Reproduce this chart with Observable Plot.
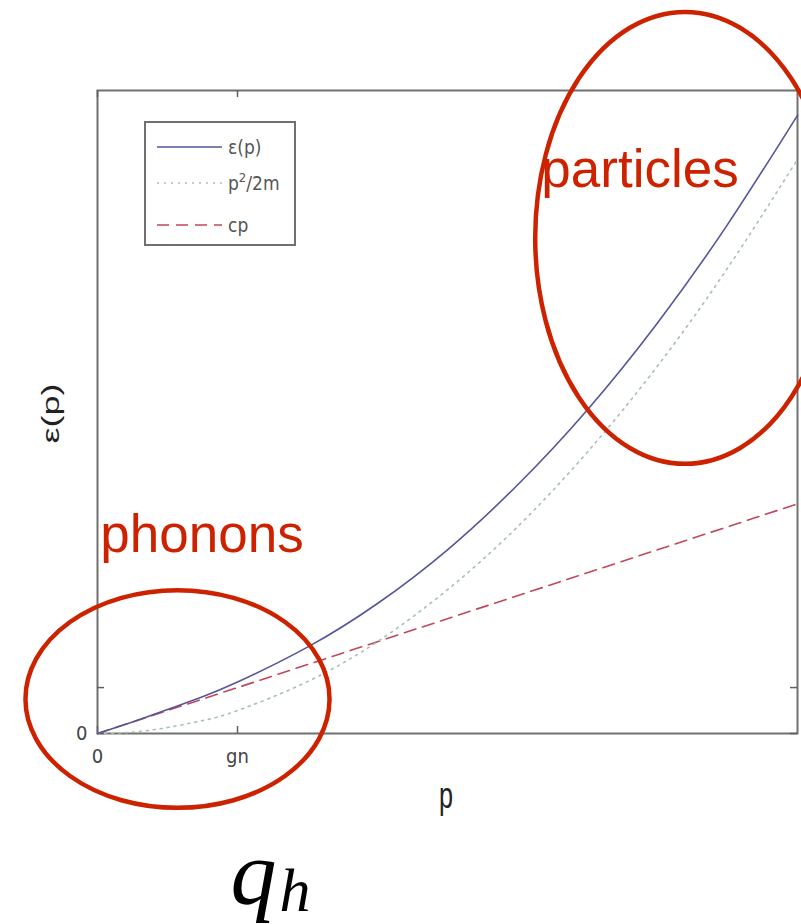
<!DOCTYPE html>
<html>
<head>
<meta charset="utf-8">
<script src="https://cdn.jsdelivr.net/npm/d3@7"></script>
<script src="https://cdn.jsdelivr.net/npm/@observablehq/plot@0.6"></script>
<style>
  html, body { margin: 0; padding: 0; background: #fff; }
  #chart svg { display: block; }
</style>
</head>
<body>
<div id="chart"></div>
<script>
// Momentum grid (units of gn) and energies of the three branches
const pGrid      = [0, 0.25, 0.5, 0.75, 1, 1.5, 2, 2.5, 3, 3.5, 4, 4.5, 5];
const epsValues  = [0, 0.25, 0.52, 0.80, 1.12, 1.88, 2.83, 4.00, 5.41, 7.05, 8.94, 11.08, 13.46];
const freeValues = [0, 0.03, 0.13, 0.28, 0.50, 1.13, 2.00, 3.13, 4.50, 6.13, 8.00, 10.13, 12.50];
const soundValues = [0, 0.25, 0.5, 0.75, 1, 1.5, 2, 2.5, 3, 3.5, 4, 4.5, 5];

// Axis ticks
const xTicks = [0, 1];
const xTickLabels = ["0", "gn"];
const yTicks = [0, 1];
const yTickLabels = ["0", ""];

// Legend entries
const seriesNames = ["ε(p)", "p²/2m", "cp"];
const seriesColors = ["#55559a", "#a6bfb6", "#c0485a"];
const seriesDash = [null, "2,5", "12,7"];

// Regime annotations (data units: p, energy)
const regionLabels = ["phonons", "particles"];
const regionLabelPos = [[0.02, 3.95], [3.17, 11.9]];
const regionCenters = [[0.575, 0.74], [4.2, 10.78]];
const regionRadii = [[1.086, 2.37], [1.07, 4.92]];

const red = "#cc2200";
const axisFont = "'DejaVu Sans Condensed', 'Liberation Sans', sans-serif";
const titleFont = "'Liberation Sans', Arial, sans-serif";
const mathFont = "'Liberation Serif', 'DejaVu Serif', serif";

const rows = pGrid.map((p, i) => ({p, eps: epsValues[i], free: freeValues[i], sound: soundValues[i]}));

const chart = Plot.plot({
  width: 801,
  height: 924,
  marginLeft: 97,
  marginRight: 4,
  marginTop: 90,
  marginBottom: 191,
  style: {background: "#fff", fontFamily: axisFont, color: "#444"},
  x: {domain: [0, 5]},
  y: {domain: [0, 14]},
  marks: [
    Plot.frame({stroke: "#707070", strokeWidth: 2}),
    // inward tick marks on all four sides
    Plot.ruleX(xTicks, {stroke: "#606060", strokeWidth: 1.5, insetTop: 636}),
    Plot.ruleX(xTicks, {stroke: "#606060", strokeWidth: 1.5, insetBottom: 636}),
    Plot.ruleY(yTicks, {stroke: "#606060", strokeWidth: 1.5, insetRight: 693}),
    Plot.ruleY(yTicks, {stroke: "#606060", strokeWidth: 1.5, insetLeft: 693}),
    Plot.axisX(xTicks, {tickSize: 0, tickPadding: 15, fontSize: 20, label: null,
      tickFormat: d => xTickLabels[xTicks.indexOf(d)]}),
    Plot.axisY(yTicks, {tickSize: 0, tickPadding: 10, fontSize: 20, label: null,
      tickFormat: d => yTickLabels[yTicks.indexOf(d)]}),
    // curves
    Plot.line(rows, {x: "p", y: "sound", stroke: seriesColors[2], strokeWidth: 1.6, strokeDasharray: seriesDash[2]}),
    Plot.line(rows, {x: "p", y: "free", stroke: seriesColors[1], strokeWidth: 1.6, strokeDasharray: seriesDash[1], curve: "natural"}),
    Plot.line(rows, {x: "p", y: "eps", stroke: seriesColors[0], strokeWidth: 1.6, curve: "natural"}),
    // q_h below the axis
    Plot.text(["q"], {frameAnchor: "bottom-left", dx: 133, dy: 170, lineAnchor: "bottom", textAnchor: "start",
      fontSize: 92, fontStyle: "italic", fill: "#000", fontFamily: mathFont}),
    Plot.text(["h"], {frameAnchor: "bottom-left", dx: 182, dy: 177, lineAnchor: "bottom", textAnchor: "start",
      fontSize: 62, fontStyle: "italic", fill: "#000", fontFamily: mathFont}),
    // regime labels
    Plot.text(regionLabels, {x: (d, i) => regionLabelPos[i][0], y: (d, i) => regionLabelPos[i][1],
      text: d => d, textAnchor: "start", lineAnchor: "bottom", fontSize: 53, fill: red,
      fontFamily: titleFont})
  ]
});

document.getElementById("chart").append(chart);

const svg = d3.select(chart);
const sx = chart.scale("x"), sy = chart.scale("y");
const frameLeft = 97, frameTop = 90, frameRight = 797, frameBottom = 733;

// Axis titles, drawn tall and narrow
svg.append("text")
  .attr("transform", `translate(${(frameLeft + frameRight) / 2 - 1},${frameBottom + 75}) scale(0.9,1.35)`)
  .attr("text-anchor", "middle")
  .attr("font-family", titleFont).attr("font-size", 28).attr("fill", "#222")
  .text("p");
svg.append("text")
  .attr("transform", `translate(${frameLeft - 38},${(frameTop + frameBottom) / 2 + 2}) rotate(-90) scale(1.5,1)`)
  .attr("text-anchor", "middle")
  .attr("font-family", titleFont).attr("font-size", 24).attr("fill", "#222")
  .text("ε(p)");

// Ellipses circling the two regimes
regionCenters.forEach(([cx, cy], i) => {
  const [rx, ry] = regionRadii[i];
  svg.append("ellipse")
    .attr("cx", sx.apply(cx))
    .attr("cy", sy.apply(cy))
    .attr("rx", sx.apply(cx + rx) - sx.apply(cx))
    .attr("ry", sy.apply(cy) - sy.apply(cy + ry))
    .attr("fill", "none")
    .attr("stroke", red)
    .attr("stroke-width", 4.5);
});

// Legend box in the upper-left corner of the frame
const lg = svg.append("g").attr("transform", `translate(${frameLeft + 48},${frameTop + 32})`);
lg.append("rect").attr("width", 150).attr("height", 123)
  .attr("fill", "#fff").attr("stroke", "#707070").attr("stroke-width", 2);
const rowY = [25, 61, 103];
seriesNames.forEach((name, i) => {
  lg.append("line").attr("x1", 12).attr("x2", 77).attr("y1", rowY[i]).attr("y2", rowY[i])
    .attr("stroke", seriesColors[i]).attr("stroke-width", 1.6)
    .attr("stroke-dasharray", seriesDash[i]);
  const t = lg.append("text").attr("x", 83).attr("y", rowY[i] + 7)
    .attr("text-anchor", "start")
    .attr("font-size", 19).attr("fill", "#555").attr("font-family", axisFont);
  if (name === "p²/2m") {
    t.append("tspan").text("p");
    t.append("tspan").attr("dy", -8).attr("font-size", 13).text("2");
    t.append("tspan").attr("dy", 8).text("/2m");
  } else {
    t.text(name);
  }
});
</script>
</body>
</html>
